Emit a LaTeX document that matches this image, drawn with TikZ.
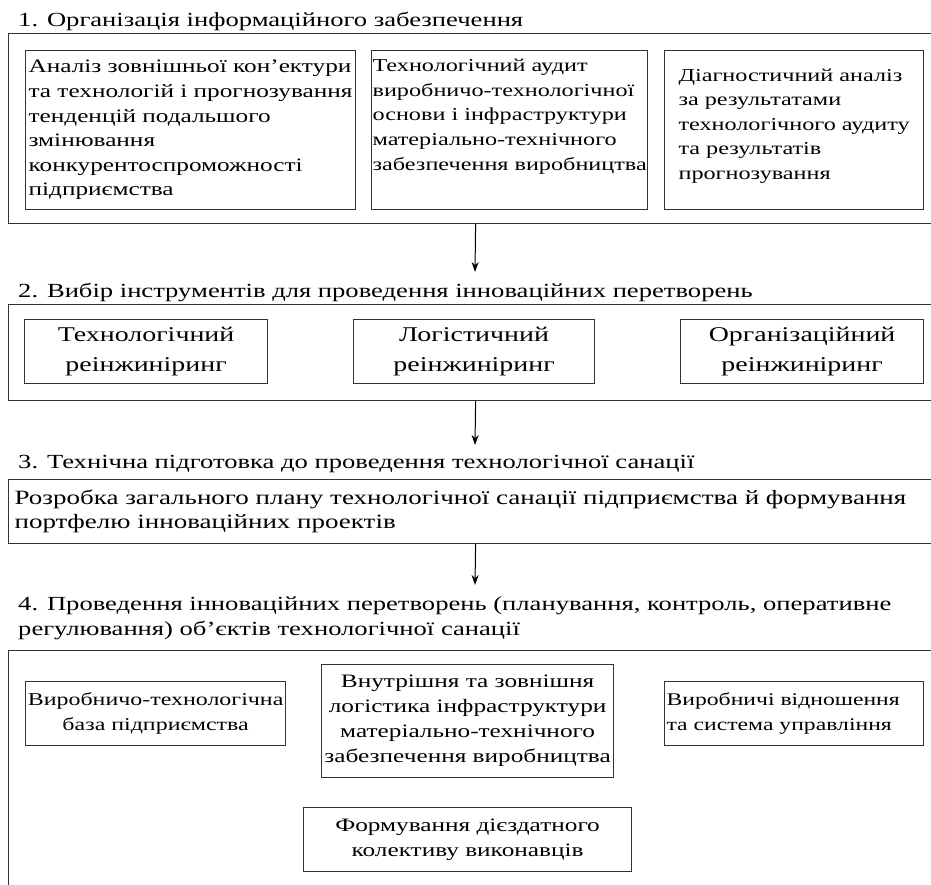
\documentclass[tikz,border=0pt]{standalone}
\usepackage{fontspec}
\setmainfont{Liberation Serif}[FakeStretch=1.33]
\usetikzlibrary{arrows.meta, positioning}

\newcommand\ttlfont{\fontsize{20}{25}\selectfont}
\newcommand\boxfont{\fontsize{19}{24.6}\selectfont}
\newcommand\smallbox{\fontsize{18.2}{24.6}\selectfont}
\newcommand\bigfont{\fontsize{21}{30}\selectfont}
\newcommand\lowfont{\fontsize{19}{25}\selectfont}

\begin{document}
\begin{tikzpicture}[x=1pt, y=-1pt, >={Stealth[length=10pt,width=7pt]},
    ttl/.style={anchor=base west, inner sep=0pt, font=\ttlfont},
    frame/.style={draw=black!80, line width=1.2pt},
    box/.style={draw=black!80, line width=1.2pt, anchor=north west, inner xsep=1pt, inner ysep=2pt, font=\boxfont},
    link/.style={->, line width=1pt}]
    \useasboundingbox (0,0) rectangle (931,884);
    \clip (0,0) rectangle (931,884);
    % 1
    \node[ttl] (t1) at (18,26) {1. Організація інформаційного забезпечення};
    \node[frame, anchor=north west, minimum width=934, minimum height=190] (f1) at (8,33) {};
    \node[box, align=left, minimum width=330, minimum height=159] (a1) at (25,50)
        {Аналіз зовнішньої кон’ектури\\та технологій і прогнозування\\тенденцій подальшого\\змінювання\\конкурентоспроможності\\підприємства};
    \node[box, align=left, font=\smallbox, minimum width=276, minimum height=159, text depth=31pt] (a2) at (371,50)
        {Технологічний аудит\\виробничо-технологічної\\основи і інфраструктури\\матеріально-технічного\\забезпечення виробництва};
    \node[box, align=left, font=\smallbox, minimum width=259, minimum height=159, text depth=12pt] (a3) at (664,50)
        {Діагностичний аналіз\\за результатами\\технологічного аудиту\\та результатів\\прогнозування};
    % 2
    \node[ttl] (t2) at (18,297) {2. Вибір інструментів для проведення інноваційних перетворень};
    \node[frame, anchor=north west, minimum width=934, minimum height=96] (f2) at (8,304) {};
    \node[box, align=center, font=\bigfont, minimum width=243, minimum height=64] (b1) at (24,319)
        {Технологічний\\реінжиніринг};
    \node[box, align=center, font=\bigfont, minimum width=241, minimum height=64] (b2) at (353,319)
        {Логістичний\\реінжиніринг};
    \node[box, align=center, font=\bigfont, minimum width=243, minimum height=64] (b3) at (680,319)
        {Організаційний\\реінжиніринг};
    % 3
    \node[ttl] (t3) at (18,468) {3. Технічна підготовка до проведення технологічної санації};
    \node[box, frame, align=left, text width=922, inner xsep=5pt, minimum width=934, minimum height=64,
        font=\fontsize{20.3}{24}\selectfont] (f3) at (8,479)
        {Розробка загального плану технологічної санації підприємства й формування\\портфелю інноваційних проектів};
    % 4
    \node[ttl, anchor=north west, align=left] (t4) at (18,596)
        {4. Проведення інноваційних перетворень (планування, контроль, оперативне\\регулювання) об’єктів технологічної санації};
    \node[frame, anchor=north west, minimum width=934, minimum height=260] (f4) at (8,650) {};
    \node[box, align=center, font=\fontsize{18}{25}\selectfont, minimum width=260, minimum height=64] (d1) at (25,681)
        {Виробничо-технологічна\\база підприємства};
    \node[box, align=center, font=\lowfont, minimum width=292, minimum height=113] (d2) at (321,664)
        {Внутрішня та зовнішня\\логістика інфраструктури\\матеріально-технічного\\забезпечення виробництва};
    \node[box, align=left, font=\fontsize{17.8}{25}\selectfont, text width=255, minimum width=259, minimum height=64] (d3) at (664,681)
        {Виробничі відношення\\та система управління};
    \node[box, align=center, font=\lowfont, minimum width=328, minimum height=64] (d4) at (303,807)
        {Формування дієздатного\\колективу виконавців};
    % arrows
    \coordinate (in2) at (475,272);
    \coordinate (in3) at (475,445);
    \coordinate (in4) at (475,585);
    \draw[link] (f1.south) -- (in2);
    \draw[link] (f2.south) -- (in3);
    \draw[link] (f3.south) -- (in4);
\end{tikzpicture}
\end{document}
